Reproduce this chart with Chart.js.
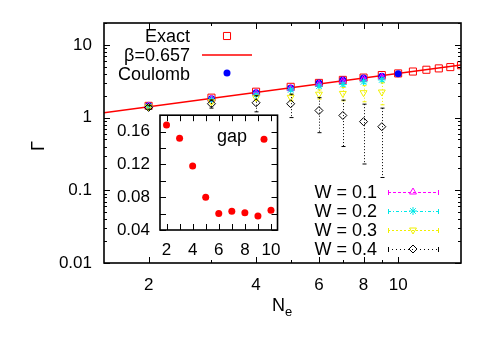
<!DOCTYPE html>
<html>
<head>
<meta charset="utf-8">
<script src="https://cdn.jsdelivr.net/npm/chart.js@4.4.1/dist/chart.umd.min.js"></script>
<style>
  body { margin: 0; background: #fff; }
  #wrap { position: relative; width: 491px; height: 344px; }
  #main { position: absolute; left: 0; top: 0; }
  #inset { position: absolute; left: 110px; top: 95px; }
</style>
</head>
<body>
<div id="wrap">
  <canvas id="main" width="491" height="344"></canvas>
  <canvas id="inset" width="181" height="165"></canvas>
</div>
<script>
// main panel : Gamma vs N_e (log-log)
const exactNe = [2, 3, 4, 5, 6, 7, 8, 9, 10, 11, 12, 13, 14, 15];
const exactGamma = [1.45, 1.88, 2.27, 2.65, 3.0, 3.3, 3.55, 3.85, 4.05, 4.3, 4.55, 4.75, 4.95, 5.25];
const fitNe = [1.5, 15];
const fitGamma = [1.17, 5.3];
const coulombNe = [2, 3, 4, 5, 6, 7, 8, 9, 10];
const coulombGamma = [1.45, 1.82, 2.2, 2.55, 3.0, 3.3, 3.5, 3.7, 4.0];

const Ne = [2, 3, 4, 5, 6, 7, 8, 9];
const gammaW1 = [1.45, 1.8, 2.15, 2.5, 2.9, 3.2, 3.4, 3.6];
const errW1 = [0.02, 0.03, 0.05, 0.05, 0.08, 0.1, 0.12, 0.15];
const gammaW2 = [1.42, 1.75, 2.05, 2.4, 2.7, 2.85, 3.1, 3.3];
const errW2 = [0.03, 0.05, 0.08, 0.1, 0.12, 0.15, 0.18, 0.2];
const gammaW3 = [1.4, 1.65, 1.88, 1.9, 2.1, 2.15, 2.2, 2.25];
const errW3 = [0.05, 0.1, 0.15, 0.2, 0.3, 0.45, 0.55, 0.75];
const gammaW4 = [1.38, 1.55, 1.6, 1.55, 1.25, 1.07, 0.88, 0.75];
const errW4 = [0.08, 0.2, 0.4, 0.55, 0.63, 0.67, 0.65, 0.6];

const xTicks = [2, 3, 4, 5, 6, 7, 8, 9, 10];
const xLabels = [2, 4, 6, 8, 10];
const yLabels = [0.01, 0.1, 1, 10];

// inset : gap vs N_e
const gapNe = [2, 3, 4, 5, 6, 7, 8, 9, 10];
const gapValues = [0.168, 0.152, 0.118, 0.08, 0.06, 0.063, 0.061, 0.057, 0.064];
const insetXTicks = [2, 3, 4, 5, 6, 7, 8, 9, 10];
const insetXLabels = [2, 4, 6, 8, 10];
const insetYTicks = [0.04, 0.06, 0.08, 0.1, 0.12, 0.14, 0.16, 0.18];
const insetYLabels = [0.04, 0.08, 0.12, 0.16];

const FONT = "'Liberation Sans', Arial, sans-serif";
Chart.defaults.font.family = FONT;
Chart.defaults.color = '#000';

const yTicks = yLabels.flatMap((d) => [1, 2, 3, 4, 5, 6, 7, 8, 9].map((k) => +(k * d).toPrecision(1))).filter((v) => v <= 20);

const pts = (xs, ys) => xs.map((x, i) => ({ x, y: ys[i] }));

const wSeries = [
  { label: 'W = 0.1', vals: gammaW1, errs: errW1, color: '#ff00ff', style: 'triangle', rot: 0, r: 4, dash: [3, 2] },
  { label: 'W = 0.2', vals: gammaW2, errs: errW2, color: '#00e8e8', style: 'star', rot: 0, r: 4, dash: [3, 2, 1, 2] },
  { label: 'W = 0.3', vals: gammaW3, errs: errW3, color: '#f0f000', style: 'triangle', rot: 180, r: 4, dash: [2, 2] },
  { label: 'W = 0.4', vals: gammaW4, errs: errW4, color: '#000000', style: 'rectRot', rot: 0, r: 4, dash: [1, 3] },
];

// inward ticks + frame, gnuplot style
function inwardTicks(chart, xMajor, yMajor) {
  const { ctx, chartArea: a, scales: { x, y } } = chart;
  ctx.save();
  ctx.strokeStyle = '#000';
  ctx.lineWidth = 1;
  ctx.beginPath();
  for (const t of x.ticks) {
    const px = Math.round(x.getPixelForValue(t.value)) + 0.5;
    const len = xMajor.includes(t.value) ? 6 : 3;
    ctx.moveTo(px, a.bottom); ctx.lineTo(px, a.bottom - len);
    ctx.moveTo(px, a.top); ctx.lineTo(px, a.top + len);
  }
  for (const t of y.ticks) {
    const py = Math.round(y.getPixelForValue(t.value)) + 0.5;
    const len = yMajor.includes(t.value) ? 6 : 3;
    ctx.moveTo(a.left, py); ctx.lineTo(a.left + len, py);
    ctx.moveTo(a.right, py); ctx.lineTo(a.right - len, py);
  }
  ctx.stroke();
  ctx.lineWidth = 1.6;
  ctx.strokeRect(a.left, a.top, a.right - a.left, a.bottom - a.top);
  ctx.restore();
}

const errorBars = {
  id: 'errorBars',
  beforeDatasetDraw(chart, args) {
    const ds = chart.data.datasets[args.index];
    if (!ds.errors) return;
    const { ctx, chartArea: a, scales: { x, y } } = chart;
    ctx.save();
    ctx.beginPath();
    ctx.rect(a.left, a.top, a.right - a.left, a.bottom - a.top);
    ctx.clip();
    ctx.strokeStyle = ds.borderColor;
    ctx.lineWidth = 1;
    ds.data.forEach((p, i) => {
      const e = ds.errors[i];
      const px = Math.round(x.getPixelForValue(p.x)) + 0.5;
      const top = y.getPixelForValue(p.y + e);
      const bot = y.getPixelForValue(Math.max(p.y - e, 0.011));
      ctx.setLineDash([1, 2]);
      ctx.beginPath();
      ctx.moveTo(px, top); ctx.lineTo(px, bot);
      ctx.stroke();
      ctx.setLineDash([]);
      ctx.beginPath();
      ctx.moveTo(px - 2, top); ctx.lineTo(px + 2, top);
      ctx.moveTo(px - 2, bot); ctx.lineTo(px + 2, bot);
      ctx.stroke();
    });
    ctx.restore();
  },
};

const mainDecor = {
  id: 'mainDecor',
  afterDraw(chart) {
    const { ctx } = chart;
    inwardTicks(chart, xLabels, yLabels);
    ctx.save();
    ctx.fillStyle = '#000';
    ctx.font = `18px ${FONT}`;
    ctx.textAlign = 'right';
    ctx.textBaseline = 'middle';
    // top-left key
    ctx.fillText('Exact', 190, 37);
    ctx.fillText('\u03b2=0.657', 190, 56);
    ctx.fillText('Coulomb', 190, 75);
    ctx.strokeStyle = '#ff0000';
    ctx.fillStyle = 'rgba(0,0,0,0)';
    ctx.lineWidth = 1;
    Chart.helpers.drawPoint(ctx, { pointStyle: 'rect', radius: 5, rotation: 0, borderWidth: 1 }, 227, 36);
    ctx.lineWidth = 1.5;
    ctx.beginPath();
    ctx.moveTo(202, 55); ctx.lineTo(252, 55);
    ctx.stroke();
    ctx.fillStyle = '#0000ff';
    ctx.beginPath();
    ctx.arc(227, 73, 3.5, 0, Math.PI * 2);
    ctx.fill();

    // bottom-right key
    wSeries.forEach((s, i) => {
      const yy = 192 + i * 19;
      ctx.fillStyle = '#000';
      ctx.fillText(s.label, 377, yy + 1);
      ctx.strokeStyle = s.color;
      ctx.lineWidth = 1;
      ctx.setLineDash(s.dash);
      ctx.beginPath();
      ctx.moveTo(388, yy + 0.5); ctx.lineTo(439, yy + 0.5);
      ctx.stroke();
      ctx.setLineDash([]);
      ctx.beginPath();
      ctx.moveTo(388.5, yy - 2); ctx.lineTo(388.5, yy + 3);
      ctx.moveTo(438.5, yy - 2); ctx.lineTo(438.5, yy + 3);
      ctx.stroke();
      ctx.fillStyle = 'rgba(0,0,0,0)';
      Chart.helpers.drawPoint(ctx, { pointStyle: s.style, radius: s.r, rotation: s.rot, borderWidth: 1 }, 413, yy);
    });

    // axis titles
    ctx.fillStyle = '#000';
    ctx.textAlign = 'center';
    ctx.save();
    ctx.translate(39, 146);
    ctx.rotate(-Math.PI / 2);
    ctx.fillText('\u0393', 0, 0);
    ctx.restore();
    ctx.textAlign = 'left';
    ctx.fillText('N', 272, 306);
    ctx.font = `13px ${FONT}`;
    ctx.fillText('e', 285, 312);
    ctx.restore();
  },
};

const mainDatasets = [
  { data: pts(exactNe, exactGamma), pointStyle: 'rect', pointRadius: 5, borderColor: '#ff0000', backgroundColor: 'rgba(0,0,0,0)', borderWidth: 1, order: 7 },
  { data: pts(fitNe, fitGamma), showLine: true, pointRadius: 0, borderColor: '#ff0000', borderWidth: 1.5, order: 6 },
  { data: pts(coulombNe, coulombGamma), pointStyle: 'circle', pointRadius: 3.5, borderColor: '#0000ff', backgroundColor: '#0000ff', borderWidth: 0, order: 5 },
  ...wSeries.map((s, i) => ({
    data: pts(Ne, s.vals), errors: s.errs, pointStyle: s.style, rotation: s.rot, pointRadius: s.r,
    borderColor: s.color, backgroundColor: 'rgba(0,0,0,0)', borderWidth: 1, order: 4 - i,
  })),
];

new Chart(document.getElementById('main'), {
  type: 'scatter',
  data: { datasets: mainDatasets },
  options: {
    responsive: false, animation: false, devicePixelRatio: 1,
    layout: { padding: { top: 23, right: 30, left: 0, bottom: 0 } },
    plugins: { legend: { display: false }, tooltip: { enabled: false } },
    scales: {
      x: {
        type: 'logarithmic', min: 1.5, max: 15,
        grid: { display: false, drawTicks: false }, border: { display: false },
        afterBuildTicks: (s) => { s.ticks = xTicks.map((v) => ({ value: v })); },
        afterFit: (s) => { s.height = 81; },
        ticks: { autoSkip: false, maxRotation: 0, padding: 12, font: { size: 17 }, callback: (v) => (xLabels.includes(v) ? String(v) : '') },
      },
      y: {
        type: 'logarithmic', min: 0.01, max: 20,
        grid: { display: false, drawTicks: false }, border: { display: false },
        afterBuildTicks: (s) => { s.ticks = yTicks.map((v) => ({ value: v })); },
        afterFit: (s) => { s.width = 104; },
        ticks: { autoSkip: false, padding: 12, font: { size: 17 }, callback: (v) => (yLabels.includes(v) ? String(v) : '') },
      },
    },
  },
  plugins: [errorBars, mainDecor],
});

const insetDecor = {
  id: 'insetDecor',
  beforeDraw(chart) {
    const { ctx, chartArea: a } = chart;
    ctx.save();
    ctx.fillStyle = '#fff';
    ctx.fillRect(a.left, a.top, a.right - a.left, a.bottom - a.top);
    ctx.restore();
  },
  afterDraw(chart) {
    const { ctx, chartArea: a } = chart;
    inwardTicks(chart, insetXTicks, insetYTicks);
    ctx.save();
    ctx.fillStyle = '#000';
    ctx.font = `18px ${FONT}`;
    ctx.textAlign = 'right';
    ctx.textBaseline = 'middle';
    ctx.fillText('gap', a.left + 87, a.top + 22);
    ctx.fillStyle = '#ff0000';
    ctx.beginPath();
    ctx.arc(a.left + 104, a.top + 24, 3.5, 0, Math.PI * 2);
    ctx.fill();
    ctx.restore();
  },
};

new Chart(document.getElementById('inset'), {
  type: 'scatter',
  data: {
    datasets: [{ data: pts(gapNe, gapValues), pointStyle: 'circle', pointRadius: 3.5, backgroundColor: '#ff0000', borderColor: '#ff0000', borderWidth: 0 }],
  },
  options: {
    responsive: false, animation: false, devicePixelRatio: 1,
    layout: { padding: { top: 8, right: 10, left: 0, bottom: 0 } },
    plugins: { legend: { display: false }, tooltip: { enabled: false } },
    scales: {
      x: {
        type: 'linear', min: 1.5, max: 10.5,
        grid: { display: false, drawTicks: false }, border: { display: false },
        afterBuildTicks: (s) => { s.ticks = insetXTicks.map((v) => ({ value: v })); },
        afterFit: (s) => { s.height = 30; },
        ticks: { autoSkip: false, maxRotation: 0, padding: 10, font: { size: 17 }, callback: (v) => (insetXLabels.includes(v) ? String(v) : '') },
      },
      y: {
        type: 'linear', min: 0.04, max: 0.18,
        grid: { display: false, drawTicks: false }, border: { display: false },
        afterBuildTicks: (s) => { s.ticks = insetYTicks.map((v) => ({ value: v })); },
        afterFit: (s) => { s.width = 50; },
        ticks: { autoSkip: false, padding: 10, font: { size: 17 }, callback: (v) => (insetYLabels.includes(v) ? v.toFixed(2) : '') },
      },
    },
  },
  plugins: [insetDecor],
});
</script>
</body>
</html>
